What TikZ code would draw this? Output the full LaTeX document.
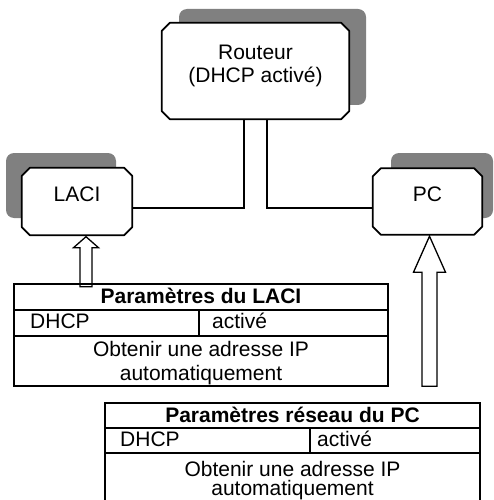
\documentclass[tikz,border=0pt]{standalone}
\usepackage{fontspec}
\setmainfont{Liberation Sans}
\definecolor{shadowgray}{HTML}{808080}
\newcommand{\chamferbox}[1]{%
  \draw[boxline] ([xshift=8pt]#1.north west) -- ([xshift=-8pt]#1.north east)
    -- ([yshift=-8pt]#1.north east) -- ([yshift=8pt]#1.south east)
    -- ([xshift=-8pt]#1.south east) -- ([xshift=8pt]#1.south west)
    -- ([yshift=8pt]#1.south west) -- ([yshift=-8pt]#1.north west) -- cycle;}
\begin{document}
\begin{tikzpicture}[x=1pt,y=-1pt,
  box/.style={rectangle, inner sep=0pt},
  boxline/.style={draw=black, line width=1.7pt, fill=white, line join=round},
  shade/.style={fill=shadowgray, rounded corners=8pt},
  txt/.style={font=\fontsize{21}{24}\selectfont, inner sep=0pt, anchor=base},
  txtw/.style={txt, anchor=base west},
  bold/.style={txt, font=\fontsize{21}{24}\selectfont\bfseries},
  conn/.style={draw=black, line width=1.4pt},
  tbl/.style={draw=black, line width=1.8pt},
  hollow/.style={draw=black, line width=1.3pt, fill=white, line join=miter}
]
\useasboundingbox (0,0) rectangle (494,500);
\clip (0,0) rectangle (494,500);

% shadows
\fill[shade] (179,9) rectangle (366,105);
\fill[shade] (6,153) rectangle (116,218);
\fill[shade] (391,153) rectangle (493,218);

% boxes
\node[box, minimum width=187pt, minimum height=96pt] (router) at (255.5,71) {};
\node[box, minimum width=110pt, minimum height=67pt] (laci) at (77,201.5) {};
\node[box, minimum width=109pt, minimum height=66pt] (pc) at (427.5,201.5) {};
\chamferbox{router}
\chamferbox{laci}
\chamferbox{pc}

\node[txt] (routerl1) at (255.5,60) {Routeur};
\node[txt] (routerl2) at (255.5,83) {(DHCP activé)};
\node[txt] (lacil) at (77,201) {LACI};
\node[txt] (pcl) at (427.5,201) {PC};

% connectors
\draw[conn] ([xshift=-11.5pt]router.south) |- ([yshift=-6.5pt]laci.east);
\draw[conn] ([xshift=11.5pt]router.south) |- ([yshift=-6.5pt]pc.west);

% hollow arrows
\coordinate (lacitip) at ([xshift=9pt,yshift=-1.5pt]laci.south);
\coordinate (pctip) at ([xshift=2pt,yshift=-1.5pt]pc.south);
\draw[hollow] (lacitip) -- ++(12.5,11) -- ++(-6.5,0) -- ++(0,39) -- ++(-12,0) -- ++(0,-39) -- ++(-6.5,0) -- cycle;
\draw[hollow] (pctip) -- ++(16,36) -- ++(-8.5,0) -- ++(0,114) -- ++(-15,0) -- ++(0,-114) -- ++(-8.5,0) -- cycle;

% table LACI
\draw[tbl] (14,284) rectangle (388,386);
\draw[tbl] (14,310) -- (388,310);
\draw[tbl] (14,336) -- (388,336);
\draw[tbl] (199,310) -- (199,336);
\node[bold] (t1h) at (201,303) {Paramètres du LACI};
\node[txtw] (t1a) at (30,328) {DHCP};
\node[txtw] (t1b) at (212,328) {activé};
\node[txt] (t1c) at (201,356) {Obtenir une adresse IP};
\node[txt] (t1d) at (201,380) {automatiquement};

% table PC
\draw[tbl] (105,403) rectangle (480,503);
\draw[tbl] (105,428) -- (480,428);
\draw[tbl] (105,453) -- (480,453);
\draw[tbl] (310,428) -- (310,453);
\node[bold] (t2h) at (292.5,422) {Paramètres réseau du PC};
\node[txtw] (t2a) at (120,446) {DHCP};
\node[txtw] (t2b) at (317,446) {activé};
\node[txt] (t2c) at (292.5,476) {Obtenir une adresse IP};
\node[txt] (t2d) at (292.5,495) {automatiquement};
\end{tikzpicture}
\end{document}
